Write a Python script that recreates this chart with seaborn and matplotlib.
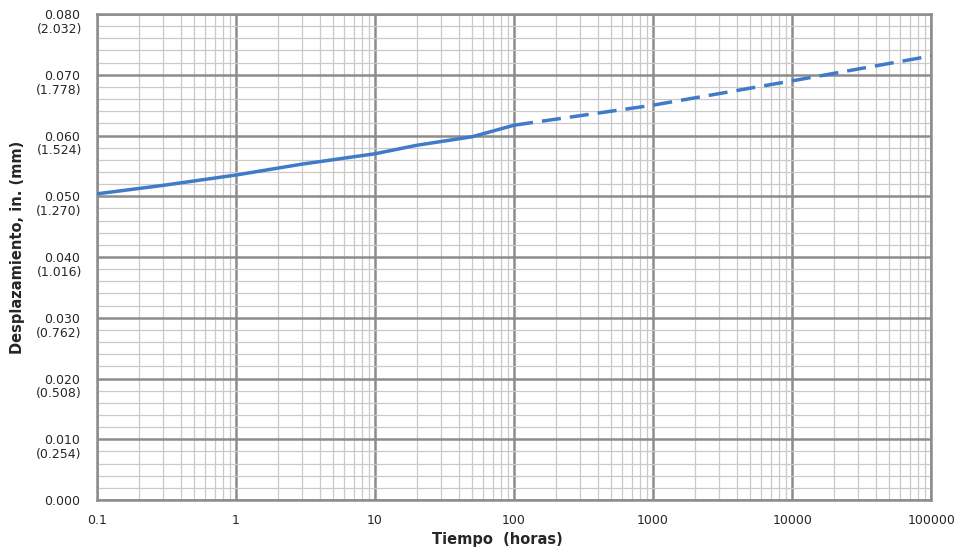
import matplotlib
matplotlib.use("Agg")
import matplotlib.pyplot as plt
from matplotlib.ticker import LogLocator, MultipleLocator, NullFormatter
import seaborn as sns
import pandas as pd

# datos
t_medido = [0.1, 0.3, 1, 3, 10, 20, 50, 100]
d_medido = [0.0504, 0.0518, 0.0535, 0.0553, 0.0570, 0.0584, 0.0598, 0.0617]
t_extrap = [100, 1000, 10000, 100000]
d_extrap = [0.0617, 0.0650, 0.0690, 0.0731]

y_ticks = [0.0, 0.01, 0.02, 0.03, 0.04, 0.05, 0.06, 0.07, 0.08]
y_in = ["0.000", "0.010", "0.020", "0.030", "0.040", "0.050", "0.060", "0.070", "0.080"]
y_mm = ["", "(0.254)", "(0.508)", "(0.762)", "(1.016)", "(1.270)", "(1.524)", "(1.778)", "(2.032)"]
x_ticks = [0.1, 1, 10, 100, 1000, 10000, 100000]
x_labels = ["0.1", "1", "10", "100", "1000", "10000", "100000"]

sns.set_style("white")
plt.rcParams['font.family'] = ['DejaVu Sans']

fig = plt.figure(figsize=(9.56, 5.5), dpi=100)
ax = fig.add_axes([0.1015, 0.0909, 0.8725, 0.8836])

df_m = pd.DataFrame({"t": t_medido, "d": d_medido})
df_e = pd.DataFrame({"t": t_extrap, "d": d_extrap})
sns.lineplot(data=df_m, x="t", y="d", ax=ax, color="#3f7bc8", linewidth=2.5, zorder=5)
sns.lineplot(data=df_e, x="t", y="d", ax=ax, color="#3f7bc8", linewidth=2.5,
             linestyle=(0, (5.5, 2.6)), zorder=5)

ax.set_xscale("log")
ax.set_xlim(0.1, 100000)
ax.set_ylim(0, 0.08)

ax.set_xticks(x_ticks)
ax.set_xticklabels(x_labels, fontsize=9)
ax.xaxis.set_minor_locator(LogLocator(base=10, subs=range(2, 10), numticks=20))
ax.xaxis.set_minor_formatter(NullFormatter())
ax.set_yticks(y_ticks)
ax.set_yticklabels(y_in, fontsize=9)
ax.yaxis.set_minor_locator(MultipleLocator(0.002))

ax.grid(which="major", color="#8c8c8c", linewidth=1.8, zorder=2)
ax.grid(which="minor", color="#c9c9c9", linewidth=0.9, zorder=1)
ax.set_axisbelow(True)

ax.tick_params(axis="x", which="major", length=5, width=1.5, color="#8c8c8c", pad=5)
ax.tick_params(axis="x", which="minor", length=0)
ax.tick_params(axis="y", which="both", length=0, pad=12)

for s in ax.spines.values():
    s.set_color("#8c8c8c")
    s.set_linewidth(1.8)

# segunda linea de las etiquetas (mm)
for y, mm in zip(y_ticks, y_mm):
    if mm:
        ax.annotate(mm, xy=(0, y), xycoords=("axes fraction", "data"),
                    xytext=(-11, -11), textcoords="offset points",
                    ha="right", va="center", fontsize=9)

ax.set_xlabel("Tiempo  (horas)", fontsize=10.5, fontweight="bold", labelpad=6)
ax.xaxis.set_label_coords(0.48, -0.065)
ax.set_ylabel("Desplazamiento, in. (mm)", fontsize=10.5, fontweight="bold", labelpad=8)
ax.yaxis.set_label_coords(-0.086, 0.52)

fig.savefig("out.png", dpi=100)
